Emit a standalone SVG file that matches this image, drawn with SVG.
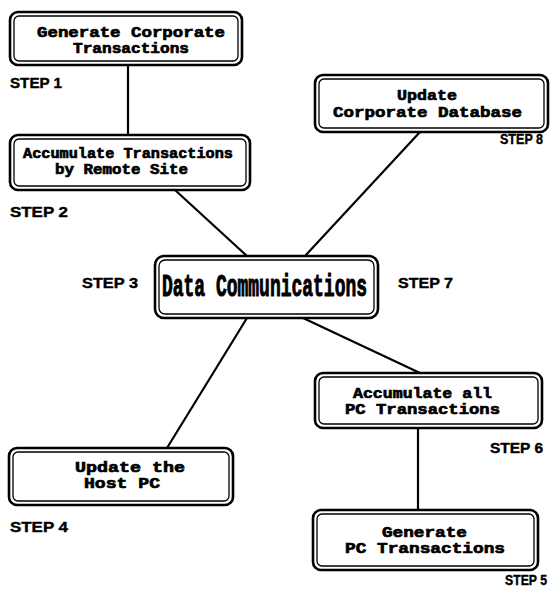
<svg xmlns="http://www.w3.org/2000/svg" width="557" height="594" viewBox="0 0 557 594">
<style>
.o{fill:#fff;stroke:#000;stroke-width:2.6}
.i{fill:none;stroke:#000;stroke-width:1.3}
.t{font-family:"Liberation Mono","DejaVu Sans Mono",monospace;font-weight:bold;font-size:15px;fill:#000;stroke:#000;stroke-width:0.7}
.big{font-size:18px;stroke-width:0.6}
.s{font-family:"Liberation Sans",Arial,sans-serif;font-weight:bold;font-size:15px;fill:#000;stroke:#000;stroke-width:0.4}
.c{stroke:#000;stroke-width:2.2;fill:none}
</style>
<rect width="557" height="594" fill="#fff"/>
<g id="connectors">
<line class="c" x1="128" y1="65" x2="128" y2="135"/>
<line class="c" x1="175" y1="190" x2="247" y2="256"/>
<line class="c" x1="305" y1="256" x2="420" y2="132"/>
<line class="c" x1="247" y1="318" x2="167" y2="448"/>
<line class="c" x1="303" y1="318" x2="420" y2="373"/>
<line class="c" x1="418" y1="428" x2="418" y2="510"/>
</g>
<g id="step1">
<rect class="o" x="10" y="12" width="232" height="53" rx="8"/>
<rect class="i" x="14" y="16" width="224" height="45" rx="5"/>
<text class="t" x="37" y="37" textLength="188" lengthAdjust="spacingAndGlyphs">Generate Corporate</text>
<text class="t" x="73" y="53" textLength="116" lengthAdjust="spacingAndGlyphs">Transactions</text>
<text class="s" x="10" y="88" textLength="52" lengthAdjust="spacingAndGlyphs" font-size="13">STEP 1</text>
</g>
<g id="step2">
<rect class="o" x="10" y="135" width="240" height="55" rx="8"/>
<rect class="i" x="14" y="139" width="232" height="47" rx="5"/>
<text class="t" x="23" y="158" textLength="210" lengthAdjust="spacingAndGlyphs" font-size="13">Accumulate Transactions</text>
<text class="t" x="55" y="174" textLength="133" lengthAdjust="spacingAndGlyphs" font-size="14">by Remote Site</text>
<text class="s" x="10" y="217" textLength="58" lengthAdjust="spacingAndGlyphs" font-size="16">STEP 2</text>
</g>
<g id="step3-7">
<rect class="o" x="155" y="256" width="223" height="62" rx="9"/>
<rect class="i" x="159" y="260" width="215" height="54" rx="6"/>
<text class="t big" transform="translate(162,296) scale(1,1.75)" x="0" y="0" textLength="205" lengthAdjust="spacingAndGlyphs">Data Communications</text>
<text class="s" x="82" y="288" textLength="56" lengthAdjust="spacingAndGlyphs" font-size="16">STEP 3</text>
<text class="s" x="398" y="288" textLength="55" lengthAdjust="spacingAndGlyphs" font-size="16">STEP 7</text>
</g>
<g id="step8">
<rect class="o" x="315" y="75" width="233" height="57" rx="8"/>
<rect class="i" x="319" y="79" width="225" height="49" rx="5"/>
<text class="t" x="397" y="100" textLength="60" lengthAdjust="spacingAndGlyphs">Update</text>
<text class="t" x="333" y="117" textLength="189" lengthAdjust="spacingAndGlyphs">Corporate Database</text>
<text class="s" x="500" y="144" textLength="43" lengthAdjust="spacingAndGlyphs" font-size="13">STEP 8</text>
</g>
<g id="step6">
<rect class="o" x="315" y="373" width="227" height="55" rx="8"/>
<rect class="i" x="319" y="377" width="219" height="47" rx="5"/>
<text class="t" x="353" y="398" textLength="139" lengthAdjust="spacingAndGlyphs">Accumulate all</text>
<text class="t" x="345" y="414" textLength="155" lengthAdjust="spacingAndGlyphs">PC Transactions</text>
<text class="s" x="490" y="453" textLength="53" lengthAdjust="spacingAndGlyphs" font-size="14">STEP 6</text>
</g>
<g id="step5">
<rect class="o" x="313" y="510" width="225" height="60" rx="8"/>
<rect class="i" x="317" y="514" width="217" height="52" rx="5"/>
<text class="t" x="382" y="537" textLength="85" lengthAdjust="spacingAndGlyphs">Generate</text>
<text class="t" x="345" y="553" textLength="160" lengthAdjust="spacingAndGlyphs">PC Transactions</text>
<text class="s" x="505" y="585" textLength="42" lengthAdjust="spacingAndGlyphs" font-size="13">STEP 5</text>
</g>
<g id="step4">
<rect class="o" x="9" y="448" width="224" height="57" rx="8"/>
<rect class="i" x="13" y="452" width="216" height="49" rx="5"/>
<text class="t" x="75" y="472" textLength="110" lengthAdjust="spacingAndGlyphs">Update the</text>
<text class="t" x="84" y="488" textLength="76" lengthAdjust="spacingAndGlyphs">Host PC</text>
<text class="s" x="10" y="532" textLength="58" lengthAdjust="spacingAndGlyphs" font-size="16">STEP 4</text>
</g>
</svg>
